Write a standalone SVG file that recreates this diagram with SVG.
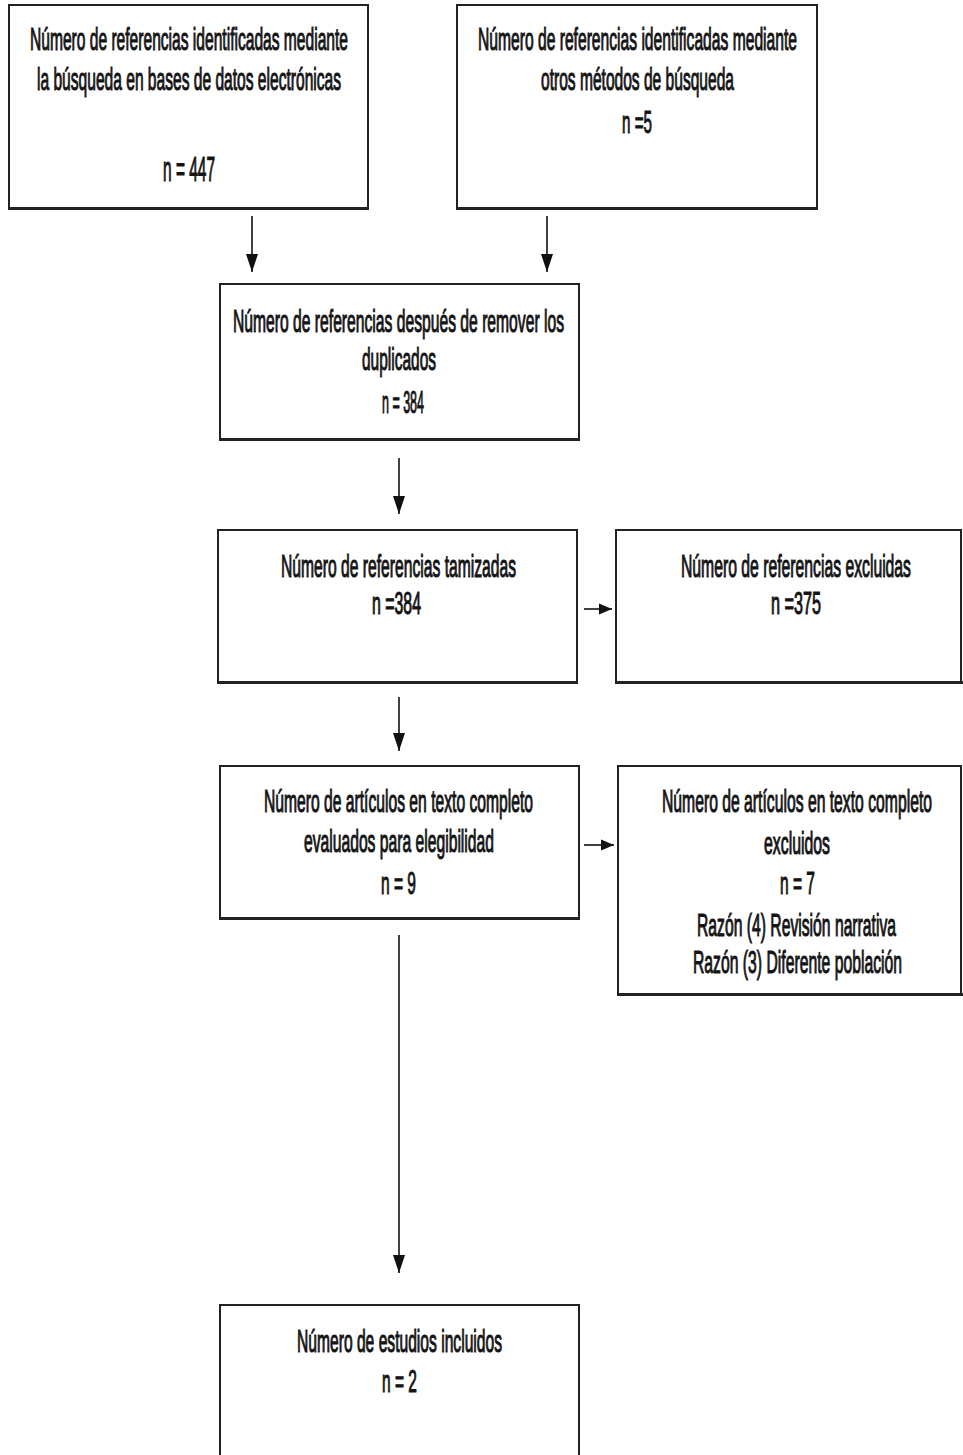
<svg xmlns="http://www.w3.org/2000/svg" width="963" height="1455" viewBox="0 0 963 1455">
  <style>
    .box { fill: #ffffff; stroke: #222222; stroke-width: 2; }
    .base { stroke: #222222; stroke-width: 3; }
    .lbl { font-family: "Liberation Sans", Arial, sans-serif; font-size: 31px; fill: #141414; stroke: #141414; stroke-width: 1.1; }
    .big { font-size: 35px; }
    .conn { stroke: #111111; stroke-width: 1.6; fill: none; }
  </style>
  <defs>
    <!-- arrowheads drawn along +x so orient="auto" turns them with the line -->
    <marker id="headV" markerUnits="userSpaceOnUse" markerWidth="18" markerHeight="14" refX="18" refY="7" orient="auto" viewBox="0 0 18 14">
      <path d="M0,1 L18,7 L0,13 Z" fill="#111111"/>
    </marker>
    <marker id="headH" markerUnits="userSpaceOnUse" markerWidth="13" markerHeight="12" refX="13" refY="6" orient="auto" viewBox="0 0 13 12">
      <path d="M0,0.5 L13,6 L0,11.5 Z" fill="#111111"/>
    </marker>
  </defs>
  <rect width="963" height="1455" fill="#ffffff"/>

  <!-- connectors -->
  <g id="connectors">
    <line class="conn" x1="252" y1="216" x2="252" y2="272" marker-end="url(#headV)"/>
    <line class="conn" x1="547" y1="216" x2="547" y2="272" marker-end="url(#headV)"/>
    <line class="conn" x1="399" y1="458" x2="399" y2="514" marker-end="url(#headV)"/>
    <line class="conn" x1="399" y1="697" x2="399" y2="751" marker-end="url(#headV)"/>
    <line class="conn" x1="399" y1="935" x2="399" y2="1273" marker-end="url(#headV)"/>
    <line class="conn" x1="584" y1="609" x2="612" y2="609" marker-end="url(#headH)"/>
    <line class="conn" x1="584" y1="845" x2="614" y2="845" marker-end="url(#headH)"/>
  </g>

  <!-- Labels use a condensed face: text is set at double width inside scale(0.5,1). -->

  <!-- identification: databases -->
  <g id="node-db">
    <rect class="box" x="9" y="5" width="359" height="203"/>
    <line class="base" x1="8" y1="208.5" x2="369" y2="208.5"/>
    <g transform="scale(0.5,1)">
      <text class="lbl" x="60" y="50" textLength="636" lengthAdjust="spacingAndGlyphs">Número de referencias identificadas mediante</text>
      <text class="lbl" x="74" y="90" textLength="608" lengthAdjust="spacingAndGlyphs">la búsqueda en bases de datos electrónicas</text>
      <text class="lbl big" x="326" y="181" textLength="104" lengthAdjust="spacingAndGlyphs">n = 447</text>
    </g>
  </g>

  <!-- identification: other methods -->
  <g id="node-other">
    <rect class="box" x="457" y="5" width="360" height="203"/>
    <line class="base" x1="456" y1="208.5" x2="818" y2="208.5"/>
    <g transform="scale(0.5,1)">
      <text class="lbl" x="956" y="50" textLength="638" lengthAdjust="spacingAndGlyphs">Número de referencias identificadas mediante</text>
      <text class="lbl" x="1082" y="90" textLength="386" lengthAdjust="spacingAndGlyphs">otros métodos de búsqueda</text>
      <text class="lbl" x="1244" y="133" textLength="60" lengthAdjust="spacingAndGlyphs">n =5</text>
    </g>
  </g>

  <!-- after duplicate removal -->
  <g id="node-dedup">
    <rect class="box" x="220" y="284" width="359" height="155"/>
    <line class="base" x1="219" y1="439.5" x2="580" y2="439.5"/>
    <g transform="scale(0.5,1)">
      <text class="lbl" x="466" y="332" textLength="662" lengthAdjust="spacingAndGlyphs">Número de referencias después de remover los</text>
      <text class="lbl" x="724" y="370" textLength="148" lengthAdjust="spacingAndGlyphs">duplicados</text>
      <text class="lbl" x="764" y="413" textLength="84" lengthAdjust="spacingAndGlyphs">n = 384</text>
    </g>
  </g>

  <!-- screened -->
  <g id="node-screened">
    <rect class="box" x="218" y="530" width="359" height="152"/>
    <line class="base" x1="217" y1="682.5" x2="578" y2="682.5"/>
    <g transform="scale(0.5,1)">
      <text class="lbl" x="562" y="577" textLength="470" lengthAdjust="spacingAndGlyphs">Número de referencias tamizadas</text>
      <text class="lbl" x="744" y="614" textLength="98" lengthAdjust="spacingAndGlyphs">n =384</text>
    </g>
  </g>

  <!-- excluded references -->
  <g id="node-excluded">
    <rect class="box" x="616" y="530" width="345" height="152"/>
    <line class="base" x1="615" y1="682.5" x2="963" y2="682.5"/>
    <g transform="scale(0.5,1)">
      <text class="lbl" x="1362" y="577" textLength="460" lengthAdjust="spacingAndGlyphs">Número de referencias excluidas</text>
      <text class="lbl" x="1542" y="614" textLength="100" lengthAdjust="spacingAndGlyphs">n =375</text>
    </g>
  </g>

  <!-- full-text assessed -->
  <g id="node-fulltext">
    <rect class="box" x="220" y="766" width="359" height="152"/>
    <line class="base" x1="219" y1="918.5" x2="580" y2="918.5"/>
    <g transform="scale(0.5,1)">
      <text class="lbl" x="528" y="812" textLength="538" lengthAdjust="spacingAndGlyphs">Número de artículos en texto completo</text>
      <text class="lbl" x="608" y="852" textLength="380" lengthAdjust="spacingAndGlyphs">evaluados para elegibilidad</text>
      <text class="lbl" x="762" y="894" textLength="70" lengthAdjust="spacingAndGlyphs">n = 9</text>
    </g>
  </g>

  <!-- full-text excluded -->
  <g id="node-fulltext-excluded">
    <rect class="box" x="618" y="766" width="343" height="228"/>
    <line class="base" x1="617" y1="994.5" x2="963" y2="994.5"/>
    <g transform="scale(0.5,1)">
      <text class="lbl" x="1324" y="812" textLength="540" lengthAdjust="spacingAndGlyphs">Número de artículos en texto completo</text>
      <text class="lbl" x="1528" y="854" textLength="132" lengthAdjust="spacingAndGlyphs">excluidos</text>
      <text class="lbl" x="1560" y="894" textLength="70" lengthAdjust="spacingAndGlyphs">n = 7</text>
      <text class="lbl" x="1394" y="936" textLength="398" lengthAdjust="spacingAndGlyphs">Razón (4) Revisión narrativa</text>
      <text class="lbl" x="1386" y="973" textLength="418" lengthAdjust="spacingAndGlyphs">Razón (3) Diferente población</text>
    </g>
  </g>

  <!-- included studies -->
  <g id="node-included">
    <rect class="box" x="220" y="1305" width="359" height="160"/>
    <g transform="scale(0.5,1)">
      <text class="lbl" x="594" y="1352" textLength="410" lengthAdjust="spacingAndGlyphs">Número de estudios incluidos</text>
      <text class="lbl" x="764" y="1392" textLength="70" lengthAdjust="spacingAndGlyphs">n = 2</text>
    </g>
  </g>
</svg>
